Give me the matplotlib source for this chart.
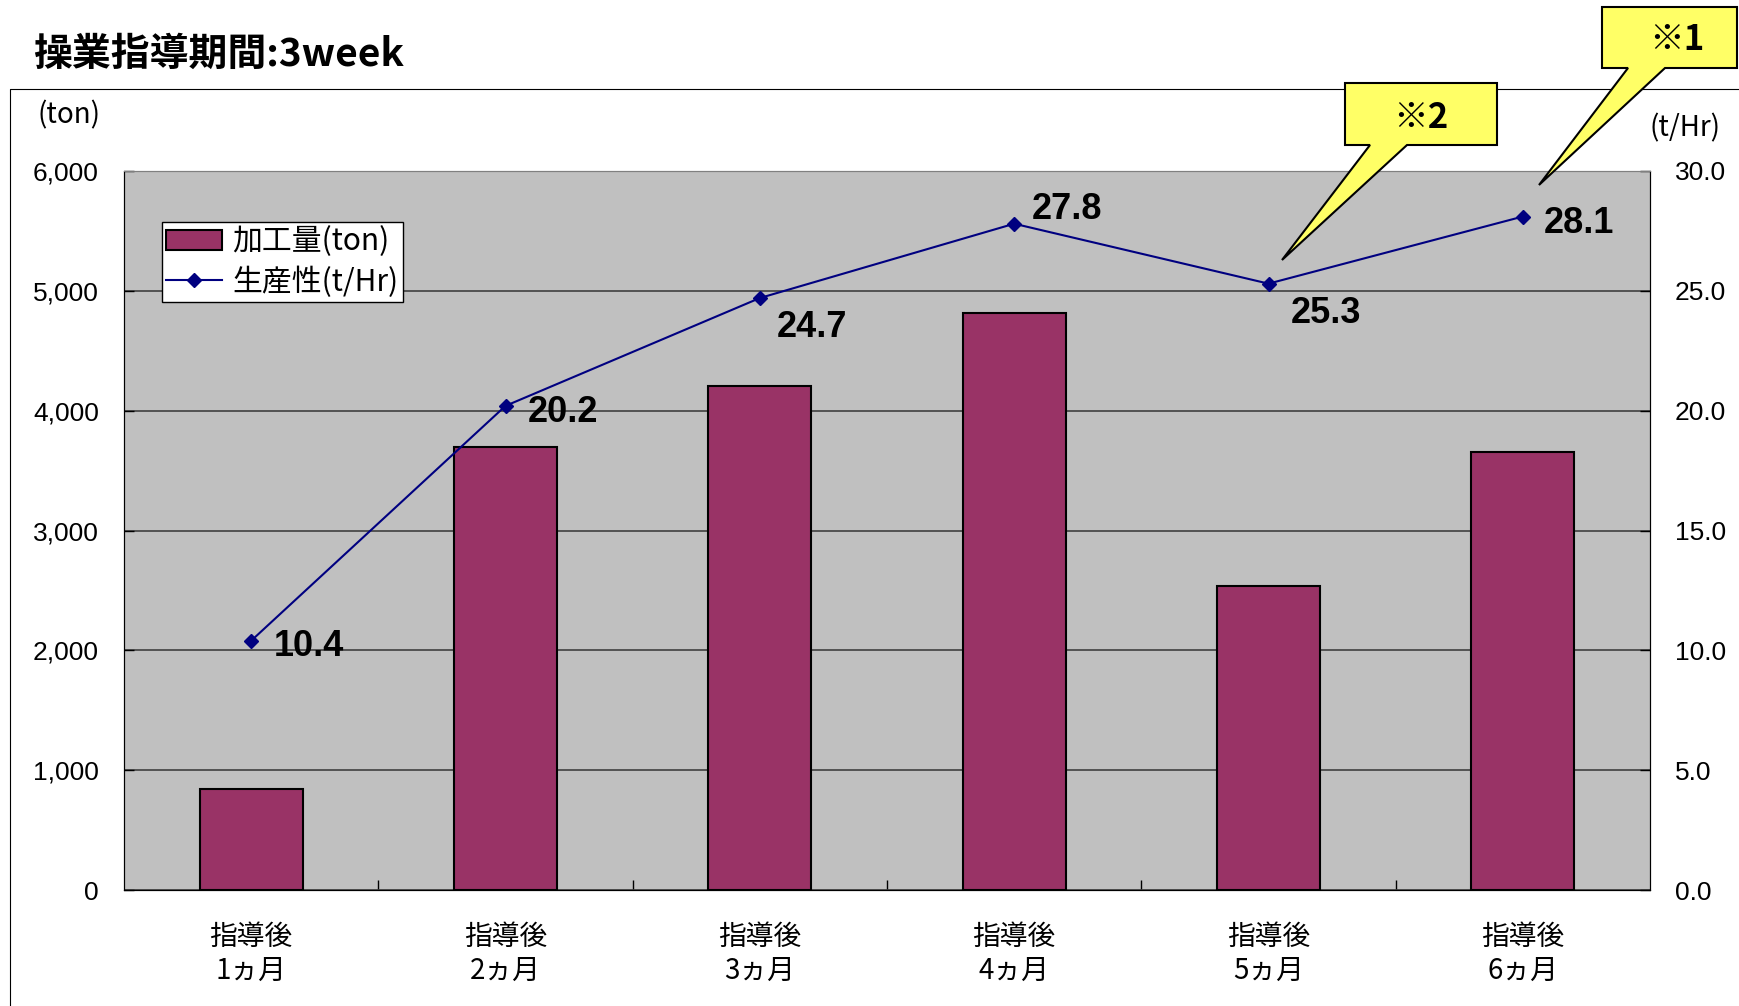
import matplotlib
matplotlib.use('Agg')  # 画面なしで描画
import matplotlib.pyplot as plt
from matplotlib.lines import Line2D
from matplotlib.patches import Polygon, Patch

plt.rcParams['font.family'] = ['Noto Sans CJK JP', 'DejaVu Sans']
num_font = ['Liberation Sans', 'DejaVu Sans']

W, H = 1739, 1006

# データ
months = ['指導後\n1ヵ月', '指導後\n2ヵ月', '指導後\n3ヵ月',
          '指導後\n4ヵ月', '指導後\n5ヵ月', '指導後\n6ヵ月']
amount = [843, 3700, 4206, 4817, 2533, 3652]          # 加工量(ton)
productivity = [10.4, 20.2, 24.7, 27.8, 25.3, 28.1]   # 生産性(t/Hr)
left_ticks = [0, 1000, 2000, 3000, 4000, 5000, 6000]
right_ticks = [0, 5, 10, 15, 20, 25, 30]

# ラベルの位置（ピクセル）
label_offsets = [(23, -6), (22, -7), (17, -29), (18, 14), (22, -30), (21, -7)]

bar_color = '#993366'
line_color = '#000080'
callout_color = '#FFFF66'


def fx(px):
    return px / W


def fy(py):
    return 1 - py / H


fig = plt.figure(figsize=(W / 100, H / 100), dpi=100)
ax = fig.add_axes([fx(124), fy(890), fx(1650) - fx(124), fy(171) - fy(890)])
ax.set_facecolor('#C0C0C0')

x = list(range(len(months)))
ax.bar(x, amount, width=0.405, color=bar_color, edgecolor='black', linewidth=1.5, zorder=3)
ax.set_xlim(-0.5, len(months) - 0.5)
ax.set_ylim(0, 6000)
ax.set_axisbelow(True)
ax.grid(axis='y', color='#404040', linewidth=1.2)

ax.set_yticks(left_ticks, labels=[f'{v:,}' for v in left_ticks],
              fontfamily=num_font, fontsize=19)
ax.tick_params(axis='y', direction='in', length=7.5, width=1, pad=18)

ax.set_xticks(x, labels=months, fontsize=20, linespacing=1.15)
ax.set_xticks([i + 0.5 for i in range(len(months) - 1)], minor=True)
ax.tick_params(axis='x', which='major', length=0, pad=23)
ax.tick_params(axis='x', which='minor', direction='in', length=7.5, width=1)

for s in ['left', 'bottom']:
    ax.spines[s].set_color('black')
ax.spines['top'].set_color('#808080')

# 生産性（右軸）
ax2 = ax.twinx()
ax2.plot(x, productivity, color=line_color, linewidth=1.5, marker='D', markersize=7, zorder=4)
ax2.set_ylim(0, 30)
ax2.set_yticks(right_ticks, labels=[f'{v:.1f}' for v in right_ticks],
               fontfamily=num_font, fontsize=19)
ax2.tick_params(axis='y', direction='in', length=7.5, width=1, pad=18)
ax2.spines['top'].set_color('#808080')

for i, v in enumerate(productivity):
    ax2.annotate(f'{v:.1f}', (i, v), xytext=label_offsets[i], textcoords='offset pixels',
                 ha='left', va='center', fontsize=26, fontweight='bold', fontfamily=num_font)

# 単位
fig.text(fx(38), fy(115), '(ton)', ha='left', va='center', fontsize=20)
fig.text(fx(1650), fy(128), '(t/Hr)', ha='left', va='center', fontsize=20)

# タイトル
fig.text(fx(33), fy(54), '操業指導期間:3week', ha='left', va='center',
         fontsize=28, fontweight='bold')

# 外枠
fig.add_artist(Line2D([fx(10), fx(10), 1], [0, fy(89), fy(89)],
                      transform=fig.transFigure, color='black', linewidth=0.8))

# 凡例
handles = [Patch(facecolor=bar_color, edgecolor='black', linewidth=1.5),
           Line2D([], [], color=line_color, linewidth=1.5, marker='D', markersize=7)]
leg = fig.legend(handles, ['加工量(ton)', '生産性(t/Hr)'], loc='upper left',
                 bbox_to_anchor=(fx(162), fy(222)), bbox_transform=fig.transFigure,
                 fontsize=21.5, frameon=True, fancybox=False, edgecolor='black',
                 framealpha=1, handlelength=1.85, handletextpad=0.35,
                 borderpad=0.15, labelspacing=0.3, borderaxespad=0)
leg.get_frame().set_linewidth(1)


# 吹き出し
def callout(x0, y0, x1, y1, base_l, base_r, tip, text, tx, ty):
    pts = [(x0, y0), (x1, y0), (x1, y1), (base_r, y1), tip, (base_l, y1), (x0, y1)]
    poly = Polygon([(fx(px), fy(py)) for px, py in pts], closed=True,
                   transform=fig.transFigure, facecolor=callout_color,
                   edgecolor='black', linewidth=1.5, joinstyle='miter', zorder=10)
    fig.add_artist(poly)
    fig.text(fx(tx), fy(ty), text, ha='center', va='center', fontsize=25,
             fontweight='bold', zorder=11)


callout(1602, 7, 1737, 68, 1628, 1665, (1539, 185), '※1', 1677, 40)
callout(1345, 83, 1497, 145, 1370, 1407, (1282, 260), '※2', 1421, 117)

fig.savefig('out.png', dpi=100)
